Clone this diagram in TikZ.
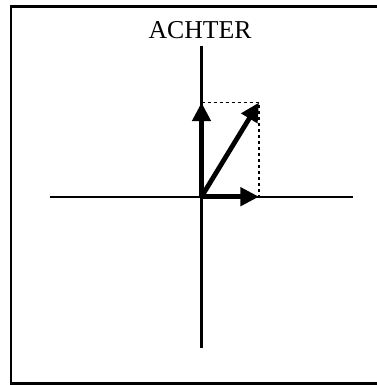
\documentclass[tikz,border=0pt]{standalone}
\usepackage{fontspec}
\setmainfont{Liberation Serif}
\usepackage{tikz}
\usetikzlibrary{arrows.meta,positioning}

\begin{document}
\begin{tikzpicture}[
    x=0.75pt,y=-0.75pt,
    frm/.style  = {line width=1.7pt,line cap=rect},
    axis/.style = {line width=1.6pt},
    vec/.style  = {-{Triangle[length=14pt 0 0,width=13.5pt 0 0]},line width=3.6pt},
    guide/.style= {line width=1.4pt,dash pattern=on 2.25pt off 2.25pt},
    lbl/.style  = {font=\fontsize{19.3}{23}\selectfont,inner sep=0pt,anchor=base},
  ]
  \useasboundingbox (0,0) rectangle (377,385);

  % frame, open on the right
  \coordinate (fa) at (377,6.5);
  \coordinate (fb) at (11,6.5);
  \coordinate (fc) at (11,383.5);
  \coordinate (fd) at (377,383.5);
  \draw[frm] (fa) -- (fb) -- (fc) -- (fd);

  \node[lbl] (title) at (200,38.3) {ACHTER};

  % axes
  \coordinate (O)  at (201.5,196.7);
  \coordinate (xl) at (49.5,196.7);
  \coordinate (xr) at (352.7,196.7);
  \coordinate (yt) at (201.5,46);
  \coordinate (yb) at (201.5,347.5);
  \draw[axis] (xl) -- (xr);
  \draw[axis] (yt) -- (yb);

  % components and resultant
  \coordinate (vy) at (201.5,102.5);
  \coordinate (vx) at (259,196.7);
  \coordinate (vr) at (259,102.5);
  \draw[guide] (vy) -- (vr) -- (vx);
  \draw[vec] (O) -- (vy);
  \draw[vec] (O) -- (vx);
  \draw[vec] (O) -- (vr);

\end{tikzpicture}
\end{document}
